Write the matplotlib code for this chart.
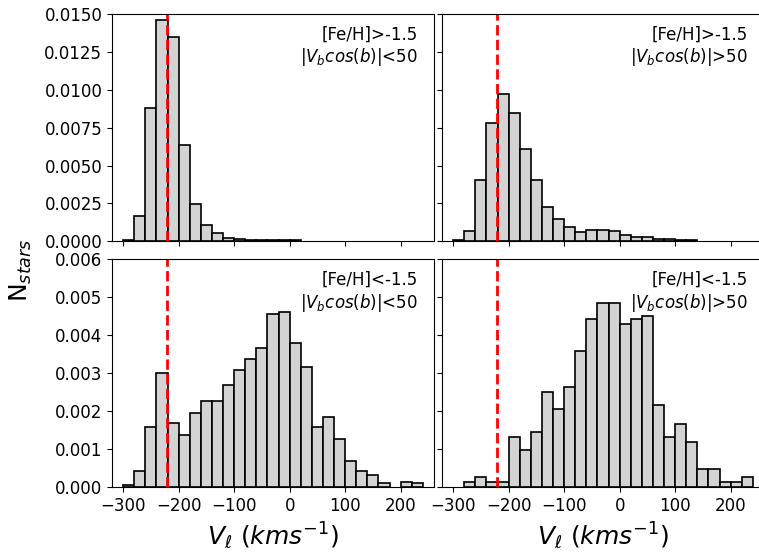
import numpy as np
import matplotlib
matplotlib.use("Agg")
import matplotlib.pyplot as plt

# bin edges shared by all four panels (20 km/s bins)
bin_edges = np.arange(-300, 260, 20)

# [Fe/H] > -1.5, |Vb cos b| < 50
rich_low = [0.00011, 0.00167, 0.00877, 0.01460, 0.01350, 0.00634, 0.00249, 0.00110,
            0.00055, 0.00022, 0.00015, 0.00009, 0.00008, 0.00007, 0.00007, 0.00006,
            0, 0, 0, 0, 0, 0, 0, 0, 0, 0, 0]

# [Fe/H] > -1.5, |Vb cos b| > 50
rich_high = [0.00011, 0.00066, 0.00403, 0.00784, 0.00969, 0.00844, 0.00610, 0.00403,
             0.00225, 0.00150, 0.00095, 0.00059, 0.00077, 0.00073, 0.00066, 0.00040,
             0.00026, 0.00026, 0.00015, 0.00015, 0.00009, 0.00009, 0, 0, 0, 0, 0]

# [Fe/H] < -1.5, |Vb cos b| < 50
poor_low = [0.00006, 0.00043, 0.00159, 0.00300, 0.00168, 0.00136, 0.00195, 0.00226,
            0.00226, 0.00268, 0.00307, 0.00336, 0.00367, 0.00457, 0.00462, 0.00380,
            0.00315, 0.00159, 0.00184, 0.00127, 0.00069, 0.00042, 0.00030, 0.00011,
            0, 0.00014, 0.00011]

# [Fe/H] < -1.5, |Vb cos b| > 50
poor_high = [0, 0.00013, 0.00027, 0.00013, 0.00013, 0.00132, 0.00096, 0.00145,
             0.00251, 0.00204, 0.00263, 0.00359, 0.00442, 0.00485, 0.00485, 0.00429,
             0.00442, 0.00450, 0.00215, 0.00132, 0.00166, 0.00119, 0.00048, 0.00048,
             0.00013, 0.00013, 0.00027]

panel_labels = ['[Fe/H]>-1.5\n$|V_bcos(b)|$<50',
                '[Fe/H]>-1.5\n$|V_bcos(b)|$>50',
                '[Fe/H]<-1.5\n$|V_bcos(b)|$<50',
                '[Fe/H]<-1.5\n$|V_bcos(b)|$>50']

v_lsr = -221

fig, axes = plt.subplots(2, 2, figsize=(7.59, 5.57), dpi=100, sharex=True, sharey='row')
plt.subplots_adjust(left=0.1476, right=1.0066, top=0.975, bottom=0.126,
                    wspace=0.025, hspace=0.079)

data = [rich_low, rich_high, poor_low, poor_high]
for ax, vals, lab in zip(axes.flat, data, panel_labels):
    vals = np.array(vals)
    keep = vals > 0  # empty bins are not drawn
    ax.bar(bin_edges[:-1][keep], vals[keep], width=np.diff(bin_edges)[keep], align='edge',
           color='lightgray', edgecolor='black', linewidth=1.2)
    ax.axvline(v_lsr, color='red', ls='--', lw=2)
    ax.text(0.95, 0.95, lab, transform=ax.transAxes, ha='right', va='top', fontsize=12)
    ax.tick_params(labelsize=12)

axes[0, 0].set_xlim(-320, 260)
axes[0, 0].set_ylim(0, 0.015)
axes[1, 0].set_ylim(0, 0.006)

for ax in axes[1]:
    ax.set_xlabel(r'$V_\ell\ (kms^{-1})$', fontsize=18)

fig.text(0.027, 0.515, r'N$_{stars}$', rotation=90, ha='center', va='center', fontsize=18)

plt.savefig('out.png', dpi=100)
